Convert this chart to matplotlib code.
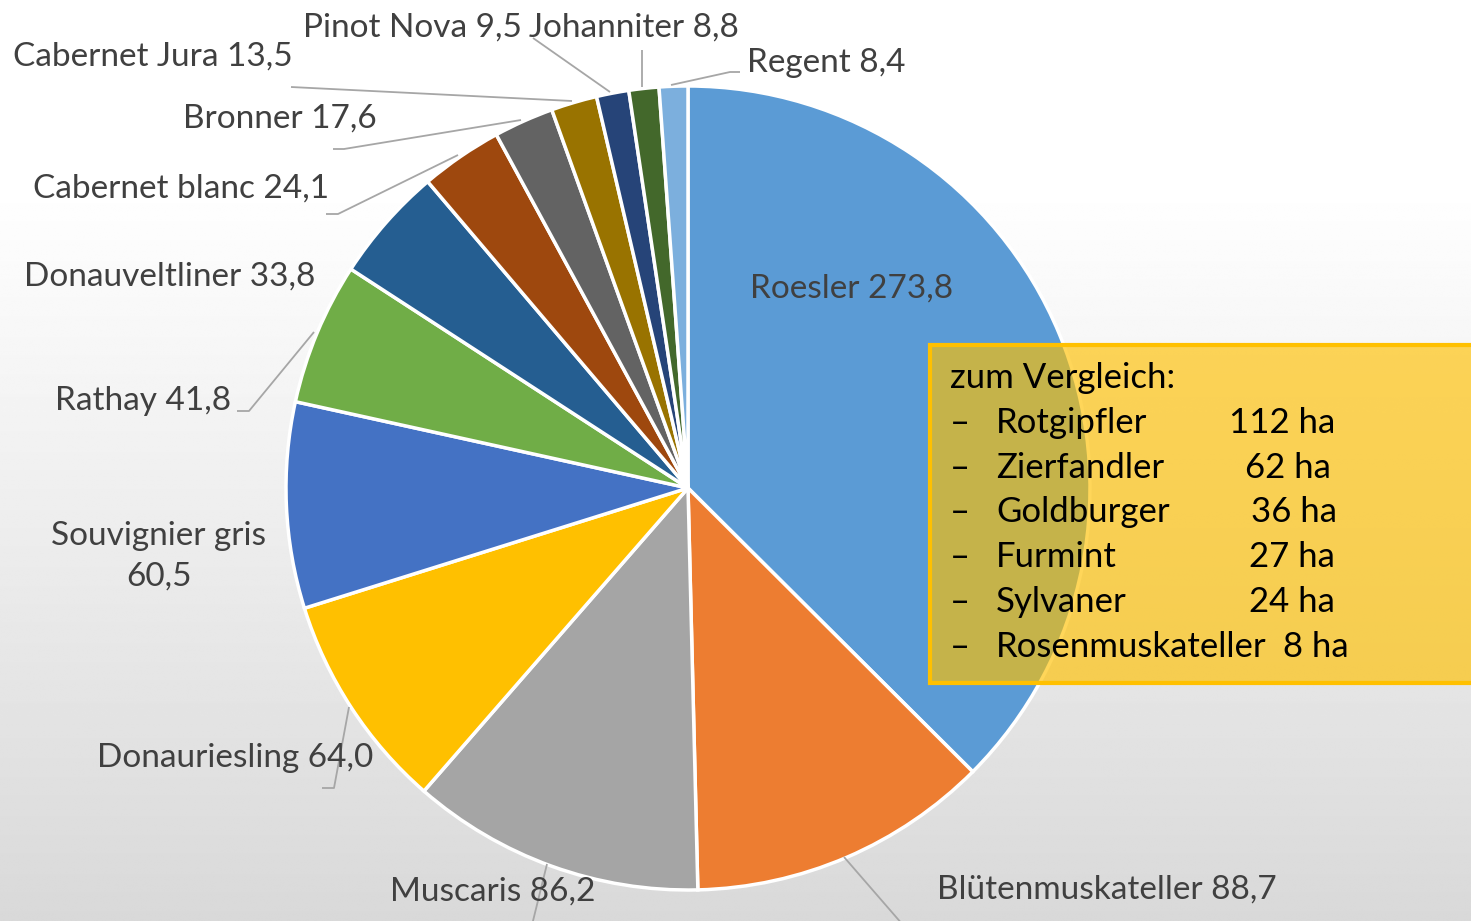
import matplotlib
matplotlib.use('Agg')
import matplotlib.pyplot as plt
import numpy as np
from matplotlib.patches import Rectangle

# ---------------- data ----------------
varieties = ['Roesler', 'Blütenmuskateller', 'Muscaris', 'Donauriesling', 'Souvignier gris',
             'Rathay', 'Donauveltliner', 'Cabernet blanc', 'Bronner', 'Cabernet Jura',
             'Pinot Nova', 'Johanniter', 'Regent']
areas = [273.8, 88.7, 86.2, 64.0, 60.5, 41.8, 33.8, 24.1, 17.6, 13.5, 9.5, 8.8, 8.4]
colors = ['#5B9BD5', '#ED7D31', '#A5A5A5', '#FFC000', '#4472C4', '#70AD47', '#255E91',
          '#9E480E', '#636363', '#997300', '#264478', '#43682B', '#7CAFDD']
compare_title = 'zum Vergleich:'
compare_names = ['Rotgipfler', 'Zierfandler', 'Goldburger', 'Furmint', 'Sylvaner', 'Rosenmuskateller']
compare_ha = [112, 62, 36, 27, 24, 8]

# ---------------- layout (image pixel coords, y down) ----------------
W, H = 1471, 921
label_pos = {
    'Roesler': (852, 289), 'Blütenmuskateller': (1107, 890), 'Muscaris': (493, 892),
    'Donauriesling': (235, 758), 'Souvignier gris': (159, 556), 'Rathay': (143, 401),
    'Donauveltliner': (170, 277), 'Cabernet blanc': (181, 189), 'Bronner': (280, 119),
    'Cabernet Jura': (153, 57), 'Pinot Nova': (412, 28), 'Johanniter': (634, 28),
    'Regent': (826, 63),
}
leaders = {
    'Blütenmuskateller': [(844, 857), (903, 925)],
    'Muscaris': [(547, 864), (532, 925)],
    'Donauriesling': [(349, 707), (334, 788), (322, 788)],
    'Rathay': [(314, 332), (249, 411), (237, 411)],
    'Cabernet blanc': [(458, 155), (338, 214), (326, 214)],
    'Bronner': [(521, 120), (344, 149), (333, 149)],
    'Cabernet Jura': [(572, 101), (291, 87)],
    'Pinot Nova': [(610, 92), (533, 38)],
    'Johanniter': [(642, 87), (642, 50)],
    'Regent': [(671, 85), (730, 72), (740, 72)],
}
value_x = [1229, 1245, 1251, 1249, 1249, 1283]

FONT = 'Lato'
plt.rcParams['font.family'] = [FONT, 'DejaVu Sans']
LABEL_FS = 24
BOX_FS = 25

def Y(y):
    return H - y

fig = plt.figure(figsize=(W / 100, H / 100), dpi=100)
ax = fig.add_axes([0, 0, 1, 1])

# background gradient
yy = np.linspace(0, 1, 400)[:, None]
g = 1 - 0.15 * np.clip((yy - 0.2) / 0.8, 0, 1)
grad = np.repeat(g, 10, axis=1)
ax.imshow(grad, extent=[0, W, 0, H], cmap='gray', vmin=0, vmax=1, aspect='auto',
          zorder=0, origin='upper', interpolation='bilinear')

ax.pie(areas, colors=colors, startangle=90, counterclock=False,
       center=(688, Y(488)), radius=402,
       wedgeprops=dict(edgecolor='white', linewidth=2.5, zorder=2))

ax.set_xlim(0, W)
ax.set_ylim(0, H)
ax.set_aspect('equal')
ax.axis('off')

def fmt(v):
    return f'{v:.1f}'.replace('.', ',')

for name, val in zip(varieties, areas):
    x, y = label_pos[name]
    if name == 'Souvignier gris':
        txt = f'{name}\n{fmt(val)}'
    else:
        txt = f'{name} {fmt(val)}'
    ax.text(x, Y(y), txt, ha='center', va='center', fontsize=LABEL_FS, color='#404040',
            linespacing=1.45, zorder=4)
    if name in leaders:
        pts = leaders[name]
        ax.plot([p[0] for p in pts], [Y(p[1]) for p in pts], color='#A6A6A6', lw=1.3,
                zorder=3, solid_capstyle='butt')

# comparison box
box = Rectangle((930, Y(683)), 580, 338, facecolor=(1, 0.753, 0, 0.65),
                edgecolor=(1, 0.753, 0, 1), lw=3, zorder=5)
ax.add_patch(box)
ax.text(950, Y(378), compare_title, ha='left', va='center', fontsize=BOX_FS, color='black', zorder=6)
row_y = [423, 468, 512, 557, 602, 647]
for name, ha_val, ry, vx in zip(compare_names, compare_ha, row_y, value_x):
    ax.text(950, Y(ry), '–', ha='left', va='center', fontsize=BOX_FS, color='black', zorder=6)
    ax.text(996, Y(ry), name, ha='left', va='center', fontsize=BOX_FS, color='black', zorder=6)
    ax.text(vx, Y(ry), f'{ha_val} ha', ha='left', va='center', fontsize=BOX_FS, color='black', zorder=6)

fig.savefig('out.png', dpi=100)
